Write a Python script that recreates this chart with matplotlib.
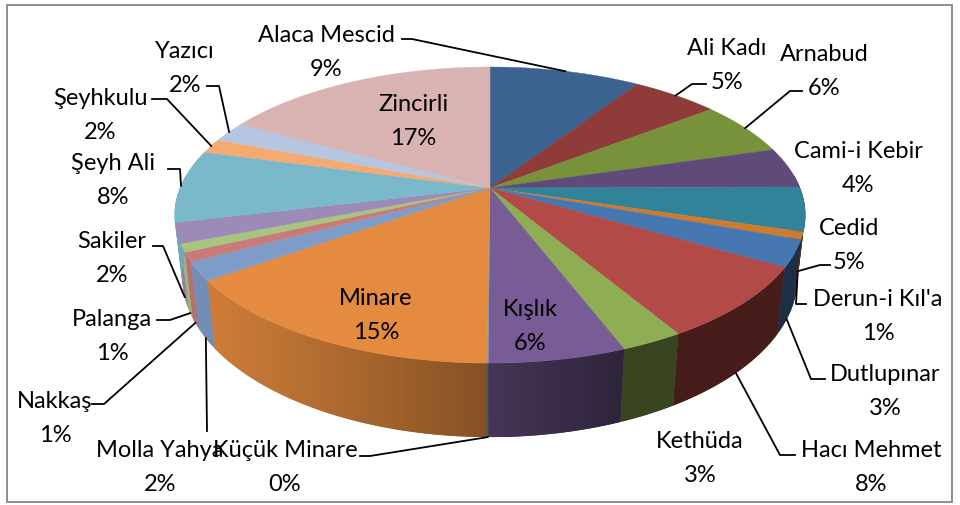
import numpy as np
import matplotlib.pyplot as plt
from matplotlib.patches import Polygon, Rectangle
from matplotlib.colors import to_rgb

names = ['Alaca Mescid', 'Ali Kadı', 'Arnabud', 'Cami-i Kebir', 'Cedid', "Derun-i Kıl'a",
         'Dutlupınar', 'Hacı Mehmet', 'Kethüda', 'Kışlık', 'Küçük Minare', 'Minare',
         'Molla Yahya', 'Nakkaş', 'Palanga', 'Sakiler', 'Şeyh Ali', 'Şeyhkulu', 'Yazıcı', 'Zincirli']
values = [9.2, 5.3, 5.9, 4.4, 4.8, 0.8, 2.9, 8.0, 2.7, 5.9, 0.05, 15.0,
          2.0, 1.0, 0.9, 2.2, 7.9, 1.6, 2.2, 16.9]
colors = ['#3c6390', '#8e3b3a', '#77923b', '#5f4a7a', '#31839a', '#d07a2c',
          '#4677b0', '#b24a47', '#8fae54', '#775c96', '#4bacc6', '#e58b3f',
          '#7f9cc9', '#c97b79', '#a9c47f', '#9c8ab8', '#7ab8cc', '#f5aa72', '#b6c6e0', '#d9b3b2']

# label layout in pixels: (x centre, baseline of first line)
label_pos = {
    'Alaca Mescid': (326, 42), 'Ali Kadı': (727, 55), 'Arnabud': (824, 61),
    'Cami-i Kebir': (858, 158), 'Cedid': (849, 235), "Derun-i Kıl'a": (878, 306),
    'Dutlupınar': (885, 381), 'Hacı Mehmet': (871, 457), 'Kethüda': (700, 448),
    'Kışlık': (530, 316), 'Küçük Minare': (285, 457), 'Minare': (376, 305),
    'Molla Yahya': (160, 457), 'Nakkaş': (55, 408), 'Palanga': (112, 326),
    'Sakiler': (112, 248), 'Şeyh Ali': (113, 170), 'Şeyhkulu': (100, 105),
    'Yazıcı': (185, 58), 'Zincirli': (413, 111),
}
# leader lines: points from the label side, last point is computed on the pie
leader_pts = {
    'Alaca Mescid': [(402, 40), (412, 40)], 'Ali Kadı': [(706, 85), (692, 85)],
    'Arnabud': [(802, 92), (790, 92)], 'Cedid': [(830, 266), (820, 266)],
    "Derun-i Kıl'a": [(806, 305), (796, 305)], 'Dutlupınar': [(825, 380), (811, 380)],
    'Hacı Mehmet': [(795, 456), (780, 456)], 'Küçük Minare': [(360, 457), (370, 457)],
    'Molla Yahya': [(207, 432)], 'Nakkaş': [(92, 405), (104, 405)],
    'Palanga': [(157, 321), (170, 321)], 'Sakiler': [(153, 247), (163, 247)],
    'Şeyh Ali': [(168, 170), (180, 170)], 'Şeyhkulu': [(152, 100), (167, 100)],
    'Yazıcı': [(207, 87), (219, 87)],
}
anchor_depth = {"Derun-i Kıl'a": 0.6}

# perspective pie geometry (pixels)
cx, cy = 490.0, 189.0
A, B, k = 310.0, 143.1, 0.1827
D = 60.5


def top_pt(t):
    r = np.radians(t)
    w = 1 + k * np.cos(r)
    return cx + A * np.sin(r) / w, cy - B * np.cos(r) / w


def bot_pt(t, frac=1.0):
    x, y = top_pt(t)
    w = 1 + k * np.cos(np.radians(t))
    dy = D / w * frac
    return x - (x - cx) * dy / 2600, y + dy


def light(t):
    return 0.40 + 0.52 * np.maximum(0.0, np.cos(np.radians(t - 250)))


# x on the front rim -> angle, for the side shading
tt = np.linspace(100.5, 259.5, 2000)
xx = np.array([top_pt(t)[0] for t in tt])

fig = plt.figure(figsize=(9.6, 5.06), dpi=100)
ax = fig.add_axes([0, 0, 1, 1])

vals = np.array(values)
total = vals.sum()
edges = np.concatenate([[0], np.cumsum(vals) / total * 360])

# side walls
for i in range(len(names)):
    lo, hi = max(edges[i], 85), min(edges[i + 1], 275)
    if hi <= lo:
        continue
    ts = np.linspace(lo, hi, max(2, int(np.ceil(hi - lo)) * 2 + 1))
    pts = [top_pt(t) for t in ts] + [bot_pt(t) for t in ts[::-1]]
    base = np.array(to_rgb(colors[i]))
    poly = Polygon(pts, closed=True, facecolor=base * light((lo + hi) / 2),
                   edgecolor='none', lw=0, zorder=1)
    ax.add_patch(poly)
    px = np.array(pts)
    x0, x1 = px[:, 0].min(), px[:, 0].max()
    y0, y1 = px[:, 1].min(), px[:, 1].max()
    cols = np.linspace(x0, x1, max(2, int(x1 - x0) + 2))
    th = np.interp(cols, xx[::-1], tt[::-1])
    img = np.clip(base[None, None, :] * light(th)[None, :, None], 0, 1)
    im = ax.imshow(img, extent=(x0, x1, y1, y0), aspect='auto',
                   interpolation='bilinear', zorder=1.5)
    im.set_clip_path(poly)

# top face
for i in range(len(names)):
    t0, t1 = edges[i], edges[i + 1]
    ts = np.linspace(t0, t1, max(2, int(np.ceil((t1 - t0) * 2)) + 1))
    pts = [(cx, cy)] + [top_pt(t) for t in ts]
    ax.add_patch(Polygon(pts, closed=True, facecolor=colors[i], edgecolor=colors[i],
                         lw=0.3, zorder=2))

# labels and leader lines
font = dict(family=['Lato', 'DejaVu Sans'], fontsize=17, color='black')
for i, n in enumerate(names):
    x, y = label_pos[n]
    pct = '%d%%' % round(100 * values[i] / total)
    ax.text(x, y, n, ha='center', va='baseline', zorder=4, **font)
    ax.text(x, y + 34, pct, ha='center', va='baseline', zorder=4, **font)
    if n in leader_pts:
        mid = (edges[i] + edges[i + 1]) / 2
        if 90 < mid < 270:
            end = bot_pt(mid, anchor_depth.get(n, 1.0))
        else:
            end = top_pt(mid)
        pts = leader_pts[n] + [end]
        ax.plot([p[0] for p in pts], [p[1] for p in pts], color='black', lw=1.3, zorder=3)

ax.add_patch(Rectangle((7, 6), 945, 497, fill=False, edgecolor='#868686', lw=1.3, zorder=5))

ax.set_xlim(0, 960)
ax.set_ylim(506, 0)
ax.axis('off')

fig.savefig('out.png', dpi=100)
